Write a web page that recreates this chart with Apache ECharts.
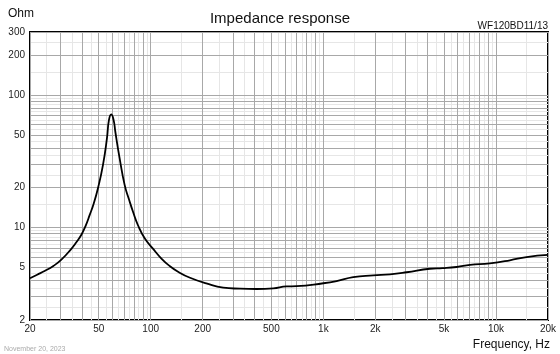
<!DOCTYPE html>
<html>
<head>
<meta charset="utf-8">
<script src="https://cdn.jsdelivr.net/npm/echarts@6.0.0/dist/echarts.min.js"></script>
<style>
  html, body { margin: 0; padding: 0; background: #fff; }
  #main { width: 560px; height: 354px; }
</style>
</head>
<body>
<div id="main"></div>
<script>
// impedance curve (Hz / Ohm)
const freq = [20, 22, 24.3, 27.3, 30.4, 34.7, 37.1, 39.6, 42, 44.3, 46.8, 49.5, 52.9, 55.8, 57.3, 59.1, 61.0, 62.4, 66.1, 70.7, 75, 79, 84.4, 92.3, 103, 115, 128, 144, 169, 210, 263, 329, 411, 513, 613, 700, 1000, 1194, 1490, 1946, 2430, 3035, 4141, 4900, 5913, 7063, 9218, 12030, 15020, 20000];
const ohm  = [4.13, 4.4, 4.69, 5.12, 5.72, 6.9, 7.73, 8.77, 10.3, 12.4, 15.2, 19.8, 29.6, 47.1, 64.8, 71.6, 64.8, 52.9, 33.3, 20.9, 16.2, 13.15, 10.4, 8.28, 6.92, 5.85, 5.15, 4.63, 4.17, 3.78, 3.51, 3.45, 3.43, 3.47, 3.59, 3.6, 3.79, 3.94, 4.22, 4.35, 4.43, 4.59, 4.88, 4.93, 5.03, 5.21, 5.36, 5.65, 5.98, 6.2];

// tick labels
const xLabels = [20, 50, 100, 200, 500, 1000, 2000, 5000, 10000, 20000];
const yLabels = [2, 5, 10, 20, 50, 100, 200, 300];

// grid lines: 1..9 per decade (dark) and the halves in between (light)
const decadeLines = (lo, hi, steps) => {
  let out = [];
  for (let d = 1; d <= 100000; d *= 10) {
    steps.forEach(s => {
      let v = +(s * d).toPrecision(6);
      if (v >= lo && v <= hi) out.push(v);
    });
  }
  return out;
};
const majorSteps = [1, 2, 3, 4, 5, 6, 7, 8, 9];
const minorSteps = [1.5, 2.5, 3.5, 4.5, 5.5, 6.5, 7.5, 8.5, 9.5];

const fmtHz = v => v >= 1000 ? (v / 1000) + 'k' : String(v);

let chartDom = document.getElementById('main');
let myChart = echarts.init(chartDom);

const font = 'Liberation Sans, Arial, sans-serif';
const txt = (size, color) => ({ fontSize: size, fontWeight: 'normal', color: color || '#111', fontFamily: font });

let option = {
  animation: false,
  textStyle: { fontFamily: font },
  title: [
    { text: 'Impedance response', left: 'center', top: 11, padding: 0, textStyle: txt(15) },
    { text: 'Ohm', left: 8, top: 8, padding: 0, textStyle: txt(12) },
    { text: 'WF120BD11/13', right: 12, top: 21, padding: 0, textStyle: txt(10) },
    { text: 'Frequency, Hz', right: 10, top: 339, padding: 0, textStyle: txt(12) },
    { text: 'November 20, 2023', left: 4, top: 346, padding: 0, textStyle: txt(7, '#aaa') }
  ],
  grid: {
    left: 30, right: 12, top: 32, bottom: 34,
    show: true, borderColor: '#000', borderWidth: 2, backgroundColor: '#fff'
  },
  xAxis: [
    {
      type: 'log', logBase: 10, min: 20, max: 20000, z: 2,
      axisLine: { show: false },
      axisTick: { show: false, customValues: decadeLines(20, 20000, majorSteps) },
      axisLabel: { customValues: xLabels, formatter: fmtHz, fontSize: 10, color: '#222', margin: 4 },
      splitLine: { show: true, lineStyle: { color: '#a8a8a8', width: 1 } }
    },
    {
      type: 'log', logBase: 10, min: 20, max: 20000, position: 'bottom', z: 1,
      axisLine: { show: false },
      axisTick: { show: false, customValues: decadeLines(20, 20000, minorSteps) },
      axisLabel: { show: false },
      splitLine: { show: true, lineStyle: { color: '#e6e6e6', width: 1 } }
    }
  ],
  yAxis: [
    {
      type: 'log', logBase: 10, min: 2, max: 300, z: 2,
      axisLine: { show: false },
      axisTick: { show: false, customValues: decadeLines(2, 300, majorSteps) },
      axisLabel: { customValues: yLabels, fontSize: 10, color: '#222', margin: 5 },
      splitLine: { show: true, lineStyle: { color: '#a8a8a8', width: 1 } }
    },
    {
      type: 'log', logBase: 10, min: 2, max: 300, position: 'left', z: 1,
      axisLine: { show: false },
      axisTick: { show: false, customValues: decadeLines(2, 300, minorSteps) },
      axisLabel: { show: false },
      splitLine: { show: true, lineStyle: { color: '#e6e6e6', width: 1 } }
    }
  ],
  series: [
    {
      name: 'Impedance',
      type: 'line',
      xAxisIndex: 0,
      yAxisIndex: 0,
      data: freq.map((f, i) => [f, ohm[i]]),
      smooth: true,
      showSymbol: false,
      z: 5,
      lineStyle: { color: '#000', width: 1.8 }
    }
  ]
};

myChart.setOption(option);
</script>
</body>
</html>
